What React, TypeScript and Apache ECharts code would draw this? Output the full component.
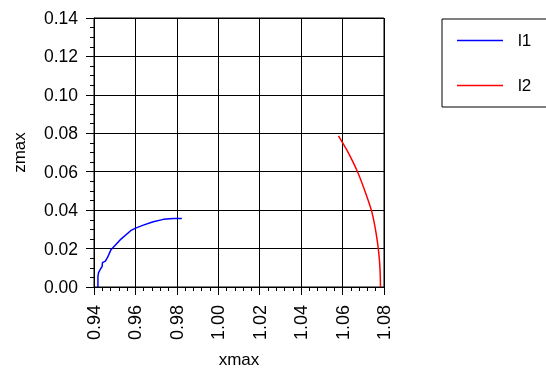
import React, { useEffect, useRef } from "react";
import * as echarts from "echarts";

const seriesNames = ["l1", "l2"];
const l1X = [0.9419, 0.9419, 0.9422, 0.9432, 0.9439, 0.9441, 0.9455, 0.9466, 0.9481, 0.9526, 0.9577, 0.9598, 0.9638, 0.9686, 0.9735, 0.9783, 0.9824];
const l1Y = [0.0, 0.0054, 0.0075, 0.0095, 0.0106, 0.0127, 0.0135, 0.0155, 0.0192, 0.0245, 0.0293, 0.0305, 0.0322, 0.034, 0.0352, 0.0357, 0.0357];
const l2X = [1.058, 1.0621, 1.0672, 1.0709, 1.0741, 1.0762, 1.0775, 1.0781, 1.0783];
const l2Y = [0.0787, 0.0712, 0.06, 0.0496, 0.0392, 0.0279, 0.0175, 0.0088, 0.0];
const xTicks = { min: 0.94, max: 1.08, step: 0.02 };
const yTicks = { min: 0.0, max: 0.14, step: 0.02 };

const FONT = "'Liberation Sans', Arial, sans-serif";
const LINE_ICON = "path://M0,0 L46,0 L46,1.5 L0,1.5 Z";

export default function App() {
  const ref = useRef<HTMLDivElement>(null);
  useEffect(() => {
    document.body.style.margin = "0";
    const chart = echarts.init(ref.current!, null, { renderer: "svg" });
    const pairs = (xs: number[], ys: number[]) => xs.map((x, i) => [x, ys[i]]);
    chart.setOption({
      animation: false,
      textStyle: { fontFamily: FONT, color: "#000" },
      grid: {
        left: 94,
        right: 162,
        top: 18,
        bottom: 86,
        containLabel: false,
        outerBoundsMode: "none",
        show: true,
        borderColor: "#000",
        borderWidth: 1,
      },
      legend: {
        orient: "vertical",
        left: 442,
        top: 19,
        width: 103,
        padding: [13, 17, 13, 15],
        itemWidth: 46,
        itemHeight: 14,
        itemGap: 28,
        borderColor: "#000",
        borderWidth: 1,
        textStyle: { fontFamily: FONT, fontSize: 17, color: "#000", padding: [0, 0, 0, 10] },
        data: seriesNames.map((n) => ({ name: n, icon: LINE_ICON })),
      },
      xAxis: {
        type: "value",
        min: xTicks.min,
        max: xTicks.max,
        interval: xTicks.step,
        name: "xmax",
        nameLocation: "middle",
        nameGap: 64,
        nameTextStyle: { fontFamily: FONT, fontSize: 17, color: "#000" },
        axisLine: { show: true, lineStyle: { color: "#000", width: 1 } },
        axisTick: { show: true, length: 8, lineStyle: { color: "#000" } },
        minorTick: { show: true, splitNumber: 5, length: 4, lineStyle: { color: "#000" } },
        splitLine: { show: true, lineStyle: { color: "#000", width: 1 } },
        axisLabel: {
          rotate: 90,
          margin: 18,
          fontFamily: FONT,
          fontSize: 18,
          color: "#000",
          formatter: (v: number) => v.toFixed(2),
        },
      },
      yAxis: {
        type: "value",
        min: yTicks.min,
        max: yTicks.max,
        interval: yTicks.step,
        name: "zmax",
        nameLocation: "middle",
        nameGap: 66,
        nameTextStyle: { fontFamily: FONT, fontSize: 17, color: "#000" },
        axisLine: { show: true, lineStyle: { color: "#000", width: 1 } },
        axisTick: { show: true, length: 8, lineStyle: { color: "#000" } },
        minorTick: { show: true, splitNumber: 4, length: 4, lineStyle: { color: "#000" } },
        splitLine: { show: true, lineStyle: { color: "#000", width: 1 } },
        axisLabel: {
          margin: 16,
          fontFamily: FONT,
          fontSize: 17.5,
          color: "#000",
          formatter: (v: number) => v.toFixed(2),
        },
      },
      series: [
        {
          name: seriesNames[0],
          type: "line",
          data: pairs(l1X, l1Y),
          symbol: "none",
          smooth: false,
          color: "#0000ff",
          lineStyle: { color: "#0000ff", width: 1.5 },
        },
        {
          name: seriesNames[1],
          type: "line",
          data: pairs(l2X, l2Y),
          symbol: "none",
          smooth: 0.3,
          color: "#ff0000",
          lineStyle: { color: "#ff0000", width: 1.5 },
        },
      ],
    });
    return () => chart.dispose();
  }, []);
  return (
    <div
      ref={ref}
      style={{ position: "fixed", left: 0, top: 0, width: 546, height: 373 }}
    />
  );
}
